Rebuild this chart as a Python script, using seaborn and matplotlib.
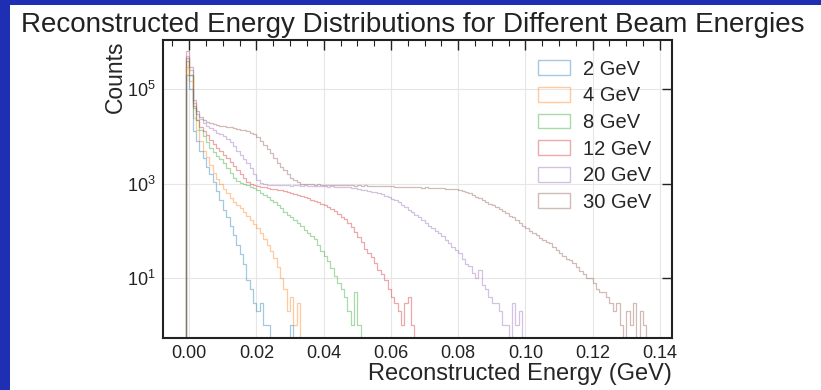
import numpy as np
import pandas as pd
import matplotlib
matplotlib.use("Agg")
import matplotlib.pyplot as plt
import seaborn as sns
from matplotlib.patches import Patch, Rectangle
from matplotlib.ticker import MultipleLocator, NullLocator, FormatStrFormatter

# histogram binning (GeV)
bin_start = -0.002
bin_width = 0.001
n_bins = 142

beam_labels = ["2 GeV", "4 GeV", "8 GeV", "12 GeV", "20 GeV", "30 GeV"]

# counts per bin, first bin starts at bin_start
counts_2gev = [0, 200000, 100000, 13000, 8000, 5000, 3500, 2200, 1600, 1100,
               700, 450, 280, 200, 125, 80, 50, 32, 20, 9,
               6, 3, 2, 3, 1, 1, 0, 0, 0, 0,
               0, 0, 1]

counts_4gev = [0, 300000, 150000, 25000, 14000, 8000, 5000, 3600, 2500, 1700,
               1250, 1000, 780, 620, 500, 410, 350, 300, 250, 210,
               170, 140, 115, 90, 68, 50, 38, 27, 17, 10,
               6, 2, 4, 1, 3]

counts_8gev = [0, 400000, 200000, 40000, 22000, 14000, 10000, 7500, 5800, 4600,
               3900, 3300, 2700, 2100, 1700, 1350, 1150, 1050, 980, 930,
               860, 790, 720, 640, 570, 510, 450, 400, 350, 300,
               250, 220, 195, 170, 145, 125, 105, 90, 78, 66,
               50, 38, 30, 23, 16, 11, 8, 6, 4, 2,
               1, 5, 1]

counts_12gev = [0, 450000, 200000, 45000, 22000, 16000, 13000, 10500, 8500, 7000,
                5800, 4800, 4000, 3500, 2900, 2400, 1950, 1600, 1300, 1100,
                1000, 950, 900, 870, 840, 810, 780, 760, 740, 720,
                690, 660, 640, 610, 580, 550, 520, 490, 460, 430,
                400, 380, 350, 320, 290, 260, 230, 200, 175, 145,
                120, 95, 75, 58, 42, 34, 28, 21, 15, 12,
                9, 6, 4, 3, 2, 1, 3, 4, 1]

counts_20gev = [0, 500000, 250000, 50000, 30000, 23000, 19000, 17000, 15000, 13500,
                12000, 11000, 10000, 9000, 7500, 6200, 5000, 4000, 3300, 2700,
                2100, 1600, 1200, 1050, 980, 950, 940, 930, 950, 920,
                940, 930, 910, 930, 920, 900, 920, 910, 890, 910,
                900, 880, 900, 870, 880, 860, 870, 850, 840, 830,
                820, 800, 780, 750, 720, 700, 680, 650, 630, 600,
                560, 520, 480, 440, 400, 360, 320, 280, 250, 220,
                195, 170, 150, 130, 115, 100, 89, 78, 65, 55,
                45, 40, 34, 26, 20, 18, 13, 10, 15, 7,
                6, 4, 3, 3, 2, 1, 1, 0, 3, 1,
                2]

counts_30gev = [0, 650000, 300000, 60000, 35000, 26000, 22000, 20000, 19000, 18000,
                17500, 17000, 16500, 16000, 15500, 15000, 14500, 14000, 13500, 12800,
                12000, 11000, 9500, 8000, 6500, 5300, 4400, 3500, 2800, 2300,
                1900, 1600, 1350, 1200, 1070, 1000, 980, 960, 975, 950,
                965, 945, 955, 940, 950, 930, 945, 925, 935, 920,
                930, 910, 925, 905, 915, 900, 910, 890, 900, 880,
                890, 875, 880, 865, 870, 855, 860, 845, 850, 835,
                840, 825, 830, 815, 820, 805, 800, 790, 785, 775,
                770, 760, 740, 700, 660, 620, 570, 530, 490, 450,
                410, 380, 350, 316, 290, 260, 235, 210, 195, 170,
                150, 130, 115, 100, 90, 80, 72, 64, 58, 55,
                45, 40, 34, 30, 26, 24, 21, 17, 14, 12,
                10, 10, 8, 6, 5, 5, 4, 3, 2, 3,
                1, 0, 2, 1, 3, 0, 2, 1]

all_counts = [counts_2gev, counts_4gev, counts_8gev, counts_12gev, counts_20gev, counts_30gev]

rows = []
for label, counts in zip(beam_labels, all_counts):
    centers = bin_start + bin_width * (np.arange(len(counts)) + 0.5)
    for e, c in zip(centers, counts):
        rows.append({"energy": e, "count": c, "beam": label})
df = pd.DataFrame(rows)
edges = (bin_start + bin_width * np.arange(n_bins + 1)).tolist()

sns.set_theme(style="white")
plt.rcParams["font.family"] = ["Liberation Sans", "DejaVu Sans"]
plt.rcParams["mathtext.fontset"] = "custom"
plt.rcParams["mathtext.rm"] = "Liberation Sans"
plt.rcParams["mathtext.it"] = "Liberation Sans:italic"

colors = sns.color_palette("tab10", len(beam_labels))
palette = dict(zip(beam_labels, colors))

fig = plt.figure(figsize=(8.21, 3.90), dpi=100, facecolor="#1e2fb4")
fig.add_artist(Rectangle((10 / 821, 0), 811 / 821, 385 / 390, transform=fig.transFigure,
                         facecolor="white", edgecolor="none", zorder=-10))
ax = fig.add_axes([163 / 821, 52 / 390, 509 / 821, 298 / 390])
ax.set_facecolor("white")

sns.histplot(data=df, x="energy", weights="count", hue="beam", hue_order=beam_labels,
             bins=edges, element="step", fill=False, palette=palette,
             alpha=0.4, linewidth=0.9, legend=False, ax=ax)

ax.set_yscale("log")
ax.set_xlim(-0.0078, 0.1436)
ax.set_ylim(0.54, 1.1e6)
ax.set_yticks([1e1, 1e3, 1e5])
ax.yaxis.set_minor_locator(NullLocator())
ax.xaxis.set_major_locator(MultipleLocator(0.02))
ax.xaxis.set_minor_locator(MultipleLocator(0.005))
ax.xaxis.set_major_formatter(FormatStrFormatter("%.2f"))

ax.grid(True, which="major", color="#e6e6e6", linewidth=0.8)
ax.set_axisbelow(True)
for s in ax.spines.values():
    s.set_linewidth(1.5)
    s.set_color("#222222")
ax.tick_params(which="both", direction="in", top=True, right=True, colors="#222222")
ax.tick_params(which="major", length=7, width=1.0, labelsize=13, pad=5)
ax.tick_params(which="minor", length=4, width=0.8)

ax.set_xlabel("Reconstructed Energy (GeV)", fontsize=17, loc="right", labelpad=1)
ax.set_ylabel("Counts", fontsize=16.5, loc="top", labelpad=0)

fig.text(413 / 821, 1 - 32 / 390, "Reconstructed Energy Distributions for Different Beam Energies",
         ha="center", va="baseline", fontsize=20, color="#222222")

handles = [Patch(facecolor="none", edgecolor=palette[b], alpha=0.4, linewidth=1.0) for b in beam_labels]
ax.legend(handles, beam_labels, loc="upper right", frameon=False, fontsize=14.5,
          handlelength=1.6, handleheight=0.75, handletextpad=0.65, labelspacing=0.38,
          borderaxespad=0.5, bbox_to_anchor=(0.995, 0.995))

fig.savefig("out.png", dpi=100, facecolor=fig.get_facecolor())
